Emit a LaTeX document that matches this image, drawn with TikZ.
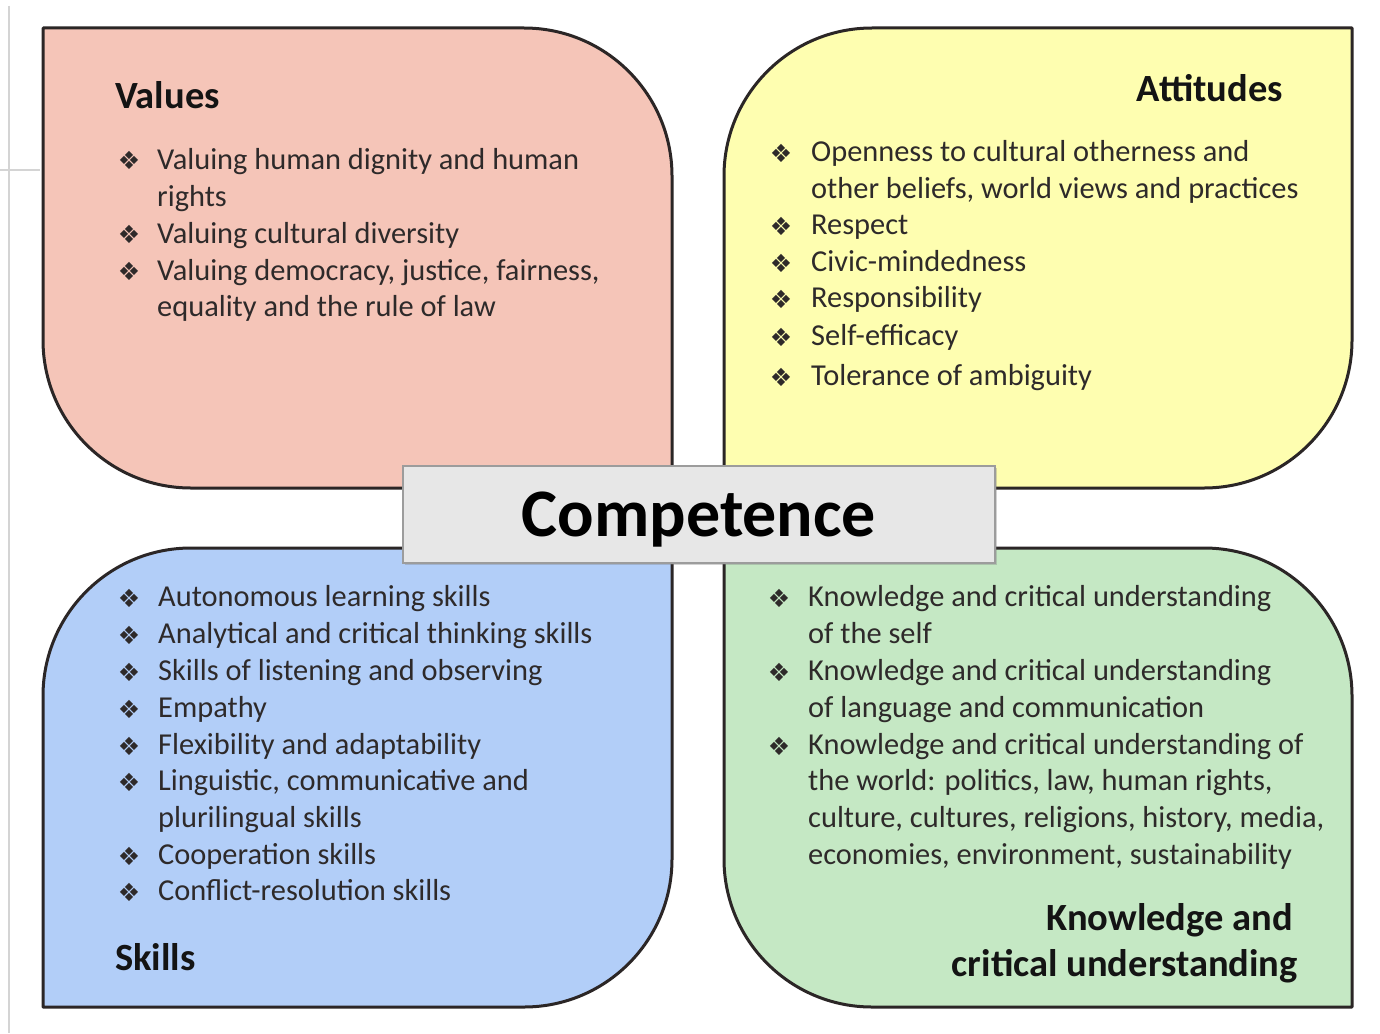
\documentclass[tikz,border=0pt]{standalone}
\usepackage{fontspec}
\setmainfont{Carlito}
\newfontfamily\dejavu{DejaVu Sans}
\usetikzlibrary{shadows}
\definecolor{pinkc}{HTML}{F5C5B8}
\definecolor{yellowc}{HTML}{FEFEB0}
\definecolor{bluec}{HTML}{B2CEF8}
\definecolor{greenc}{HTML}{C5E8C4}
\definecolor{linec}{HTML}{2B2626}
\definecolor{txtc}{HTML}{2E2A2A}
\definecolor{hdc}{HTML}{141414}
\definecolor{compfill}{HTML}{E7E7E7}
\definecolor{compline}{HTML}{9C9C9C}
\definecolor{edgec}{HTML}{D4D4D4}
\newcommand{\bodyfont}{\fontsize{30.4}{37}\selectfont}
\newcommand{\headfont}{\fontsize{38.5}{46}\selectfont\bfseries}
\newcommand{\bulfont}{\dejavu\fontsize{25}{30}\selectfont}
\tikzset{
  boxline/.style={draw=linec, line width=3pt, line join=round},
  txt/.style={anchor=base west, inner sep=0pt, font=\bodyfont, text=txtc},
  hd/.style={inner sep=0pt, font=\headfont, text=hdc},
  bul/.style={anchor=center, inner sep=0pt, font=\bulfont, text=txtc},
  edgeline/.style={draw=edgec, line width=1.5pt},
  compbox/.style={draw=compline, line width=2pt, fill=compfill,
    minimum width=592pt, minimum height=97pt, inner sep=0pt,
    text height=44pt, text depth=0pt, text=black,
    font=\fontsize{68}{80}\selectfont\bfseries,
    drop shadow={shadow xshift=2pt, shadow yshift=-2pt, opacity=0.35}}
}
\begin{document}
\begin{tikzpicture}[x=1pt,y=-1pt]
\useasboundingbox[fill=white] (0,0) rectangle (1380,1033);
% screenshot edge lines
\coordinate (e1) at (9,6);
\coordinate (e2) at (9,1033);
\coordinate (e3) at (0,170);
\coordinate (e4) at (40,170);
\draw[edgeline] (e1) -- (e2);
\draw[edgeline] (e3) -- (e4);
% quadrant shapes
\filldraw[boxline, fill=pinkc] (43,28) -- (524,28) .. controls (605.7,28) and (672,94.3) .. (672,176) -- (672,488) -- (191,488) .. controls (109.3,488) and (43,421.7) .. (43,340) -- cycle;
\filldraw[boxline, fill=yellowc] (724,176) .. controls (724,94.3) and (790.3,28) .. (872,28) -- (1352,28) -- (1352,340) .. controls (1352,421.7) and (1285.7,488) .. (1204,488) -- (724,488) -- cycle;
\filldraw[boxline, fill=bluec] (43,696) .. controls (43,614.3) and (109.3,548) .. (191,548) -- (672,548) -- (672,859) .. controls (672,940.7) and (605.7,1007) .. (524,1007) -- (43,1007) -- cycle;
\filldraw[boxline, fill=greenc] (724,548) -- (1204,548) .. controls (1285.7,548) and (1352,614.3) .. (1352,696) -- (1352,1007) -- (872,1007) .. controls (790.3,1007) and (724,940.7) .. (724,859) -- cycle;
% centre box
\node[compbox] (comp) at (699,514.5) {Competence};
% Values
\node[hd, anchor=base west] (vh) at (115,108) {Values};
\node[bul] (vb1) at (129,160) {❖};
\node[bul] (vb3) at (129,234) {❖};
\node[bul] (vb4) at (129,271) {❖};
\node[txt] (v1) at (157,169) {Valuing human dignity and human};
\node[txt] (v2) at (157,206) {rights};
\node[txt] (v3) at (157,243) {Valuing cultural diversity};
\node[txt] (v4) at (157,280) {Valuing democracy, justice, fairness,};
\node[txt] (v5) at (157,316) {equality and the rule of law};
% Attitudes
\node[hd, anchor=base east] (ah) at (1283,101) {Attitudes};
\node[bul] (ab1) at (781,153) {❖};
\node[bul] (ab3) at (781,226) {❖};
\node[bul] (ab4) at (781,263) {❖};
\node[bul] (ab5) at (781,299) {❖};
\node[bul] (ab6) at (781,337) {❖};
\node[bul] (ab7) at (781,377) {❖};
\node[txt] (a1) at (811,161.5) {Openness to cultural otherness and};
\node[txt] (a2) at (811,198.5) {other beliefs, world views and practices};
\node[txt] (a3) at (811,234.5) {Respect};
\node[txt] (a4) at (811,271.5) {Civic-mindedness};
\node[txt] (a5) at (811,307.5) {Responsibility};
\node[txt] (a6) at (811,345.5) {Self-efficacy};
\node[txt] (a7) at (811,385.5) {Tolerance of ambiguity};
% Skills
\node[bul] (sb1) at (129,598) {❖};
\node[bul] (sb2) at (129,635) {❖};
\node[bul] (sb3) at (129,672) {❖};
\node[bul] (sb4) at (129,709) {❖};
\node[bul] (sb5) at (129,746) {❖};
\node[bul] (sb6) at (129,782) {❖};
\node[bul] (sb8) at (129,856) {❖};
\node[bul] (sb9) at (129,892) {❖};
\node[txt] (s1) at (158,606.5) {Autonomous learning skills};
\node[txt] (s2) at (158,643.5) {Analytical and critical thinking skills};
\node[txt] (s3) at (158,680.5) {Skills of listening and observing};
\node[txt] (s4) at (158,717.5) {Empathy};
\node[txt] (s5) at (158,754.5) {Flexibility and adaptability};
\node[txt] (s6) at (158,790.5) {Linguistic, communicative and};
\node[txt] (s7) at (158,827.5) {plurilingual skills};
\node[txt] (s8) at (158,864.5) {Cooperation skills};
\node[txt] (s9) at (158,900.5) {Conflict-resolution skills};
\node[hd, anchor=base west] (sh) at (115,970) {Skills};
% Knowledge
\node[bul] (kb1) at (779,598) {❖};
\node[bul] (kb3) at (779,672) {❖};
\node[bul] (kb5) at (779,746) {❖};
\node[txt] (k1) at (808,606.5) {Knowledge and critical understanding};
\node[txt] (k2) at (808,643.5) {of the self};
\node[txt] (k3) at (808,680.5) {Knowledge and critical understanding};
\node[txt] (k4) at (808,717.5) {of language and communication};
\node[txt] (k5) at (808,754.5) {Knowledge and critical understanding of};
\node[txt] (k6) at (808,790.5) {the world: politics, law, human rights,};
\node[txt] (k7) at (808,827.5) {culture, cultures, religions, history, media,};
\node[txt] (k8) at (808,864.5) {economies, environment, sustainability};
\node[hd, anchor=base east] (kh1) at (1293,930) {Knowledge and};
\node[hd, anchor=base east] (kh2) at (1298,976) {critical understanding};
\end{tikzpicture}
\end{document}
